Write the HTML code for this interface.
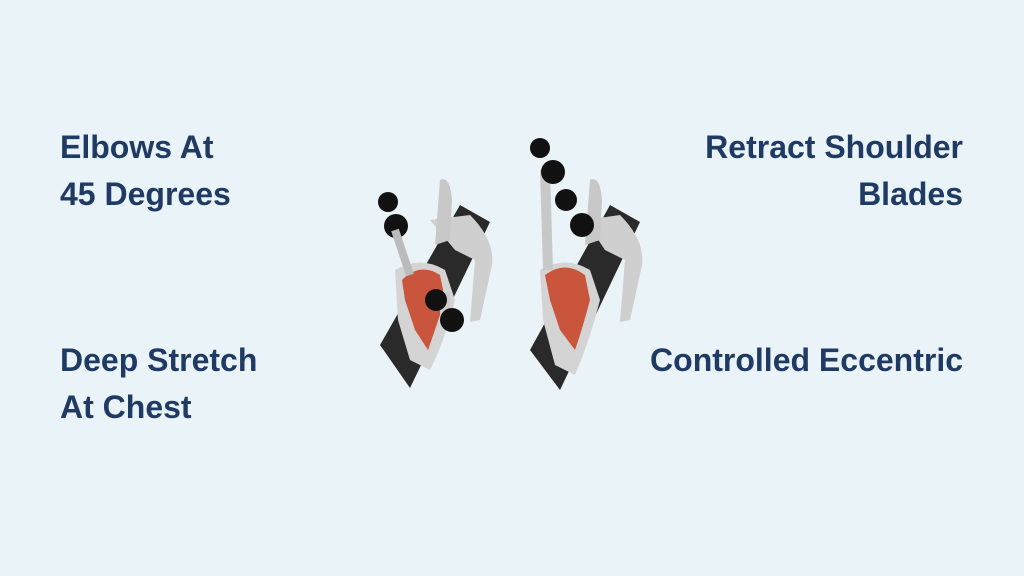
<!DOCTYPE html>
<html><head><style>
html,body{margin:0;padding:0}
body{width:1024px;height:576px;background:#e9f3f8;position:relative;overflow:hidden;font-family:"Liberation Sans",sans-serif}
.t{position:absolute;color:#1f3b63;font-weight:bold;font-size:32px;line-height:47px;white-space:nowrap}
.r{text-align:right}
</style></head><body>
<div class="t" style="left:60px;top:124px">Elbows At<br>45 Degrees</div>
<div class="t" style="left:60px;top:337px">Deep Stretch<br>At Chest</div>
<div class="t r" style="right:61px;top:124px">Retract Shoulder<br>Blades</div>
<div class="t r" style="right:61px;top:337px">Controlled Eccentric</div>
<svg style="position:absolute;left:0;top:0" width="1024" height="576">
<g>
<polygon points="380,345 460,205 490,222 410,388" fill="#2a2a2a"/>
<path d="M430,220 L470,215 Q495,240 492,265 L480,320 L470,322 L475,260 L455,250 Z" fill="#cfcfcf"/>
<path d="M440,180 Q450,175 452,200 L450,240 L435,245 Z" fill="#c8c8c8"/>
<path d="M395,270 Q420,255 445,270 L455,300 Q445,340 430,370 L410,360 L398,320 Z" fill="#d4d4d4"/>
<path d="M402,280 Q420,262 440,275 L445,300 Q435,330 428,350 L415,330 L405,300 Z" fill="#c9553c"/>
<rect x="440" y="292" width="10" height="30" fill="#ccc"/>
<circle cx="388" cy="202" r="10" fill="#111"/>
<circle cx="396" cy="226" r="12" fill="#111"/>
<circle cx="436" cy="300" r="11" fill="#111"/>
<circle cx="452" cy="320" r="12" fill="#111"/>
<path d="M395,230 L410,275" stroke="#bbb" stroke-width="8"/>
</g>
<g>
<polygon points="530,350 610,205 640,222 560,390" fill="#2a2a2a"/>
<path d="M585,220 L620,215 Q645,240 642,265 L630,320 L620,322 L625,260 L605,250 Z" fill="#cfcfcf"/>
<path d="M590,180 Q600,175 602,200 L600,240 L585,245 Z" fill="#c8c8c8"/>
<path d="M540,270 Q565,255 590,270 L600,300 Q590,340 575,375 L555,365 L543,320 Z" fill="#d4d4d4"/>
<path d="M545,275 Q565,260 585,275 L590,300 Q582,330 575,350 L560,330 L550,300 Z" fill="#c9553c"/>
<path d="M545,170 L548,270" stroke="#c8c8c8" stroke-width="10"/>
<circle cx="540" cy="148" r="10" fill="#111"/>
<circle cx="553" cy="172" r="12" fill="#111"/>
<circle cx="566" cy="200" r="11" fill="#111"/>
<circle cx="582" cy="225" r="12" fill="#111"/>
</g>
</svg>
</body></html>
